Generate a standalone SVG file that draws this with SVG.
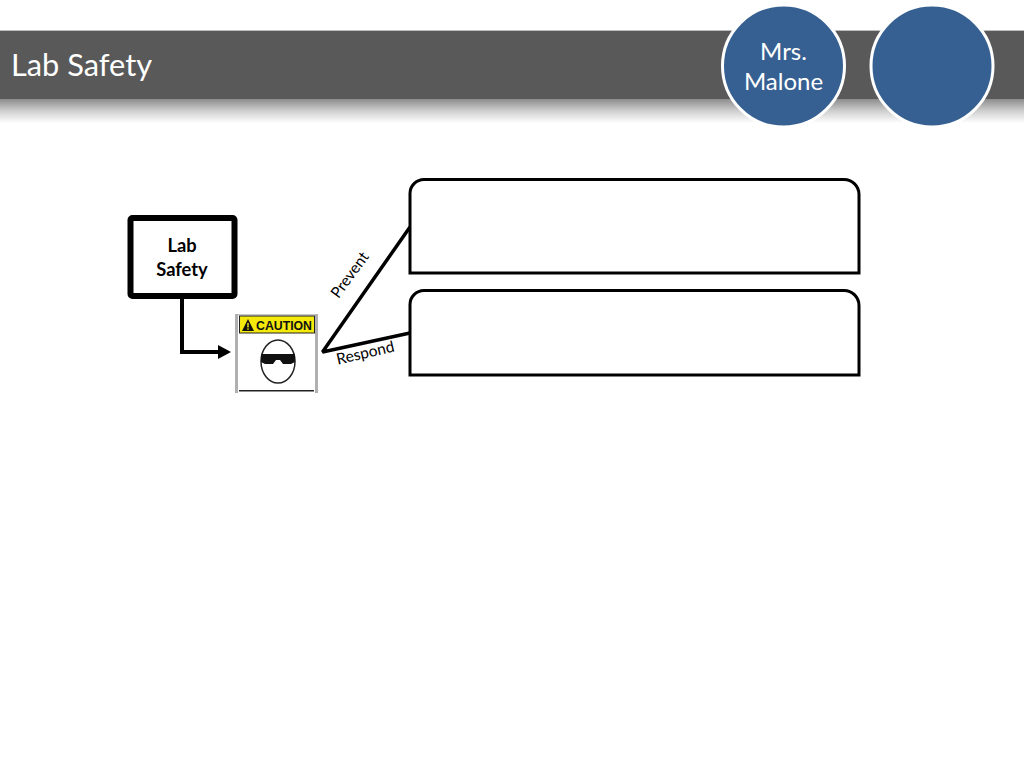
<svg xmlns="http://www.w3.org/2000/svg" width="1024" height="768" viewBox="0 0 1024 768">
<style>
text{font-family:Lato,"Open Sans",sans-serif}
.c{fill:#366092;stroke:#fff;stroke-width:3}
.ct{fill:#fff;font-size:24px;text-anchor:middle}
.box{fill:#fff;stroke:#000;stroke-width:3}
.conn{fill:none;stroke:#000}
.lbl{font-size:15.500px;fill:#000;text-anchor:middle}
</style>
<defs>
<linearGradient id="shadow" x1="0" y1="0" x2="0" y2="1">
<stop offset="0" stop-color="#8c8c8c"/><stop offset="0.5" stop-color="#cfcfcf"/><stop offset="1" stop-color="#fff"/>
</linearGradient>
<marker id="arrow" markerUnits="userSpaceOnUse" markerWidth="14" markerHeight="14" refX="1" refY="7" orient="auto">
<path d="M0 0L13 7L0 14z" fill="#000"/>
</marker>
</defs>
<rect width="1024" height="768" fill="#fff"/>
<g id="header">
<rect x="0" y="99" width="1024" height="24" fill="url(#shadow)"/>
<rect x="0" y="30" width="1024" height="69" fill="#595959"/>
<rect x="0" y="30" width="1024" height="1" fill="#bdbdbd"/>
<text x="11" y="76" font-size="30.800" fill="#fff">Lab Safety</text>
</g>
<g id="circle-malone">
<circle class="c" cx="783.500" cy="66" r="61"/>
<text class="ct" x="783.500" y="60">Mrs.</text>
<text class="ct" x="783.500" y="90">Malone</text>
</g>
<g id="circle-empty">
<circle class="c" cx="932" cy="66" r="61"/>
</g>
<g id="connectors">
<path class="conn" stroke-width="4" marker-end="url(#arrow)" d="M182 296V352H219"/>
<path class="conn" stroke-width="3.500" stroke-linejoin="bevel" d="M410 227L322.500 352L410 333"/>
<text class="lbl" transform="translate(354 278) rotate(-54)">Prevent</text>
<text class="lbl" transform="translate(366.500 358) rotate(-13)">Respond</text>
</g>
<g id="node-lab-safety">
<rect x="130.500" y="218" width="104" height="78" rx="2" fill="#fff" stroke="#000" stroke-width="6"/>
<text x="182" y="252" font-size="18.300" font-weight="700" text-anchor="middle">Lab</text>
<text x="182" y="276" font-size="18.300" font-weight="700" text-anchor="middle">Safety</text>
</g>
<g id="node-caution">
<rect x="235" y="313" width="83" height="80" fill="#fff"/>
<rect x="235" y="314" width="3" height="79" fill="#b0b0b0"/>
<rect x="315" y="314" width="3" height="79" fill="#b0b0b0"/>
<rect x="238" y="314" width="77" height="1.500" fill="#c8c8c8"/>
<rect x="239.500" y="316" width="75" height="17" fill="#f5e90c" stroke="#222" stroke-width="1"/>
<polygon points="248,319 254,331 242,331" fill="#111"/>
<rect x="247.300" y="323" width="1.400" height="4.500" fill="#f5e90c"/>
<rect x="247.300" y="328.300" width="1.400" height="1.500" fill="#f5e90c"/>
<text x="284" y="329.500" font-size="12" font-weight="700" text-anchor="middle" textLength="56" lengthAdjust="spacingAndGlyphs" style="font-family:'Liberation Sans',Arial,sans-serif" fill="#111">CAUTION</text>
<ellipse cx="278" cy="361.500" rx="17" ry="21.500" fill="#fff" stroke="#222" stroke-width="1.500"/>
<path d="M261 354H295V362L291 364H283L280 360H276L273 364H265L261 362z" fill="#111"/>
<rect x="239" y="390" width="75" height="1.500" fill="#222"/>
</g>
<g id="node-prevent">
<path class="box" d="M424 179.500H844A15 15 0 0 1 859 194.500V273H410V193.500A14 14 0 0 1 424 179.500Z"/>
</g>
<g id="node-respond">
<path class="box" d="M424 290.500H844A15 15 0 0 1 859 305.500V375H410V304.500A14 14 0 0 1 424 290.500Z"/>
</g>
</svg>
